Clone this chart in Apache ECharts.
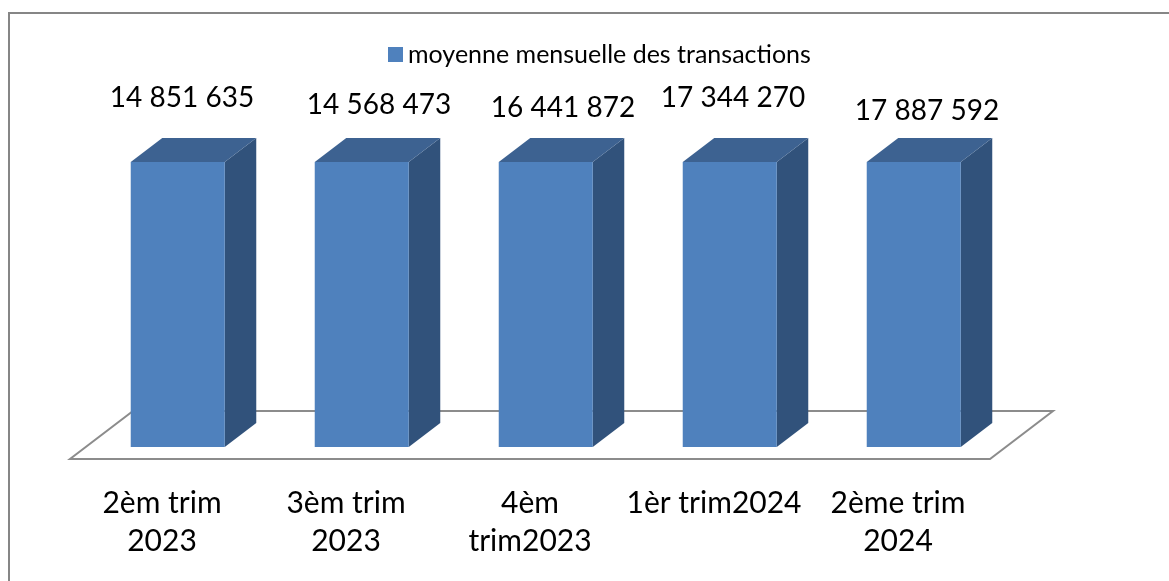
<!DOCTYPE html>
<html>
<head>
<meta charset="utf-8">
<style>
  html, body { margin: 0; padding: 0; background: #fff; }
  #main { width: 1169px; height: 581px; }
</style>
<script src="https://cdn.jsdelivr.net/npm/echarts@6/dist/echarts.min.js"></script>
</head>
<body>
<div id="main"></div>
<script>
const seriesName = "moyenne mensuelle des transactions";
const categories = ["2èm trim\n2023", "3èm trim\n2023", "4èm\ntrim2023", "1èr trim2024", "2ème trim\n2024"];
const values = [14851635, 14568473, 16441872, 17344270, 17887592];
// the source chart's axis stops below every value, so all the bars are cut at the same height
const axisMax = 14000000;

// hand placed labels in the source chart: offset from the bar top, in px
const labelDx = [20, 33, 33, 19, 29];
const labelDy = [-64, -57, -54, -64, -51];

const font = "Lato";
const depthX = 63, depthY = 48; // floor depth

function formatValue(v) {
  return String(v).replace(/\B(?=(\d{3})+$)/g, " ");
}

function renderBar(params, api) {
  const i = api.value(0);
  const top = api.coord([i, Math.min(api.value(1), axisMax)]);
  const base = api.coord([i, 0]);
  const w = api.size([1, 0])[0] * 0.511;
  // bar stands in the middle of the floor depth
  const x0 = top[0] + depthX / 4 - w / 2;
  const x1 = x0 + w;
  const y0 = top[1] - depthY / 4;
  const y1 = base[1] - depthY / 4;
  const dx = depthX / 2, dy = depthY / 2;
  return {
    type: "group",
    children: [
      { type: "polygon", shape: { points: [[x1, y0], [x1 + dx, y0 - dy], [x1 + dx, y1 - dy], [x1, y1]] }, style: { fill: "#31527b" } },
      { type: "polygon", shape: { points: [[x0, y0], [x0 + dx, y0 - dy], [x1 + dx, y0 - dy], [x1, y0]] }, style: { fill: "#3d6291" } },
      { type: "rect", shape: { x: x0, y: y0, width: w, height: y1 - y0 }, style: { fill: "#4f81bd" } },
      {
        type: "text",
        style: {
          x: top[0] + labelDx[i],
          y: y0 + labelDy[i],
          text: formatValue(values[i]),
          font: "28px " + font,
          fill: "#000",
          align: "center",
          verticalAlign: "middle",
        },
      },
    ],
  };
}

function renderFloor(params, api) {
  const c = params.coordSys;
  const b = c.y + c.height;
  return {
    type: "polygon",
    shape: { points: [[c.x, b], [c.x + c.width, b], [c.x + c.width + depthX, b - depthY], [c.x + depthX, b - depthY]] },
    style: { fill: "#fff", stroke: "#8c8c8c", lineWidth: 2 },
  };
}

const chart = echarts.init(document.getElementById("main"));
chart.setOption({
  backgroundColor: "#fff",
  animation: false,
  graphic: [
    // only the top and left edges of the frame are inside the picture
    { type: "rect", silent: true, z: -1, shape: { x: 9, y: 13, width: 1400, height: 800 }, style: { fill: "#fff", stroke: "#868686", lineWidth: 2 } },
  ],
  legend: {
    left: 383,
    top: 37,
    icon: "rect",
    itemWidth: 15,
    itemHeight: 15,
    data: [seriesName],
    textStyle: { fontFamily: font, fontSize: 25, color: "#000" },
  },
  grid: { left: 70, width: 920, top: 174, height: 285 },
  xAxis: {
    type: "category",
    data: categories,
    axisLine: { show: false },
    axisTick: { show: false },
    axisLabel: { interval: 0, margin: 25, fontFamily: font, fontSize: 30, lineHeight: 38, color: "#000" },
  },
  yAxis: { type: "value", min: 0, max: axisMax, show: false },
  series: [
    { type: "custom", silent: true, legendHoverLink: false, renderItem: renderFloor, data: [0], encode: { x: 0 }, z: 1, tooltip: { show: false } },
    {
      name: seriesName,
      type: "custom",
      renderItem: renderBar,
      itemStyle: { color: "#4f81bd" },
      encode: { x: 0, y: 1 },
      data: values.map((v, i) => [i, v]),
      z: 2,
    },
  ],
});
</script>
</body>
</html>
